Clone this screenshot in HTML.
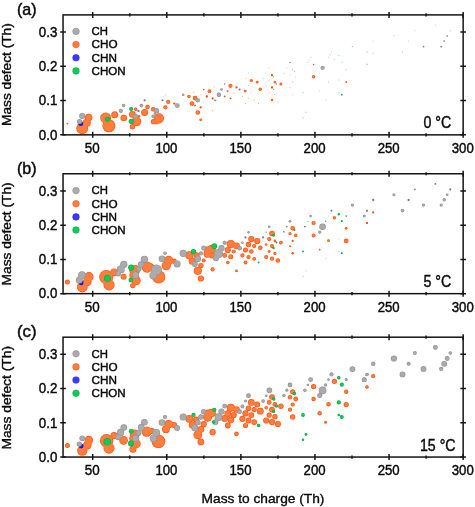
<!DOCTYPE html>
<html><head><meta charset="utf-8"><title>Mass defect plots</title>
<style>html,body{margin:0;padding:0;background:#fff;}body{width:475px;height:507px;overflow:hidden;font-family:"Liberation Sans",sans-serif;}svg{display:block;will-change:transform;}</style>
</head><body>
<svg width="475" height="507" viewBox="0 0 475 507">
<rect x="0" y="0" width="475" height="507" fill="#ffffff"/>
<g>
<circle cx="108.9" cy="125.8" r="6.50" fill="#FF5816"/>
<circle cx="82.2" cy="128.4" r="5.90" fill="#FF5816"/>
<circle cx="105.7" cy="117.9" r="5.50" fill="#FF5816"/>
<circle cx="158.9" cy="118.3" r="5.10" fill="#FF5816"/>
<circle cx="136.4" cy="121.5" r="4.80" fill="#FF5816"/>
<circle cx="86.8" cy="122.8" r="4.00" fill="#FF5816"/>
<circle cx="88.6" cy="117.6" r="3.80" fill="#FF5816"/>
<circle cx="114.7" cy="114.8" r="3.50" fill="#FF5816"/>
<circle cx="144.6" cy="112.4" r="3.50" fill="#FF5816"/>
<circle cx="123.8" cy="118.0" r="3.30" fill="#FF5816"/>
<circle cx="132.4" cy="114.4" r="3.30" fill="#FF5816"/>
<circle cx="132.4" cy="126.8" r="2.70" fill="#FF5816"/>
<circle cx="153.5" cy="121.7" r="2.60" fill="#FF5816"/>
<circle cx="192.0" cy="103.6" r="2.35" fill="#FF5816"/>
<circle cx="147.5" cy="107.0" r="2.30" fill="#FF5816"/>
<circle cx="153.2" cy="109.2" r="2.30" fill="#FF5816"/>
<circle cx="156.8" cy="122.1" r="2.30" fill="#FF5816"/>
<circle cx="195.0" cy="98.1" r="2.30" fill="#FF5816"/>
<circle cx="197.8" cy="112.5" r="2.30" fill="#FF5816"/>
<circle cx="165.4" cy="107.3" r="2.10" fill="#FF5816"/>
<circle cx="168.2" cy="101.9" r="2.10" fill="#FF5816"/>
<circle cx="230.5" cy="85.8" r="2.10" fill="#FF5816"/>
<circle cx="209.5" cy="91.2" r="1.90" fill="#FF5816"/>
<circle cx="135.6" cy="109.2" r="1.70" fill="#FF5816"/>
<circle cx="188.9" cy="96.5" r="1.70" fill="#FF5816"/>
<circle cx="260.3" cy="89.3" r="1.70" fill="#FF5816"/>
<circle cx="313.6" cy="76.8" r="1.70" fill="#FF5816"/>
<circle cx="135.8" cy="109.1" r="1.60" fill="#FF5816"/>
<circle cx="251.3" cy="80.5" r="1.60" fill="#FF5816"/>
<circle cx="280.9" cy="84.0" r="1.50" fill="#FF5816"/>
<circle cx="138.9" cy="116.3" r="1.40" fill="#FF5816"/>
<circle cx="200.7" cy="119.8" r="1.40" fill="#FF5816"/>
<circle cx="245.3" cy="91.1" r="1.40" fill="#FF5816"/>
<circle cx="257.2" cy="82.2" r="1.40" fill="#FF5816"/>
<circle cx="275.0" cy="82.2" r="1.30" fill="#FF5816"/>
<circle cx="108.9" cy="125.8" r="5.78" fill="#FF7E3E"/>
<circle cx="82.2" cy="128.4" r="5.18" fill="#FF7E3E"/>
<circle cx="105.7" cy="117.9" r="4.78" fill="#FF7E3E"/>
<circle cx="158.9" cy="118.3" r="4.38" fill="#FF7E3E"/>
<circle cx="136.4" cy="121.5" r="4.08" fill="#FF7E3E"/>
<circle cx="86.8" cy="122.8" r="3.28" fill="#FF7E3E"/>
<circle cx="88.6" cy="117.6" r="3.08" fill="#FF7E3E"/>
<circle cx="114.7" cy="114.8" r="2.78" fill="#FF7E3E"/>
<circle cx="144.6" cy="112.4" r="2.78" fill="#FF7E3E"/>
<circle cx="123.8" cy="118.0" r="2.58" fill="#FF7E3E"/>
<circle cx="132.4" cy="114.4" r="2.58" fill="#FF7E3E"/>
<circle cx="132.4" cy="126.8" r="1.98" fill="#FF7E3E"/>
<circle cx="153.5" cy="121.7" r="1.88" fill="#FF7E3E"/>
<circle cx="192.0" cy="103.6" r="1.63" fill="#FF7E3E"/>
<circle cx="147.5" cy="107.0" r="1.58" fill="#FF7E3E"/>
<circle cx="153.2" cy="109.2" r="1.58" fill="#FF7E3E"/>
<circle cx="156.8" cy="122.1" r="1.58" fill="#FF7E3E"/>
<circle cx="195.0" cy="98.1" r="1.58" fill="#FF7E3E"/>
<circle cx="197.8" cy="112.5" r="1.58" fill="#FF7E3E"/>
<circle cx="165.4" cy="107.3" r="1.38" fill="#FF7E3E"/>
<circle cx="168.2" cy="101.9" r="1.38" fill="#FF7E3E"/>
<circle cx="230.5" cy="85.8" r="1.38" fill="#FF7E3E"/>
<circle cx="209.5" cy="91.2" r="1.18" fill="#FF7E3E"/>
<circle cx="135.6" cy="109.2" r="0.98" fill="#FF7E3E"/>
<circle cx="188.9" cy="96.5" r="0.98" fill="#FF7E3E"/>
<circle cx="260.3" cy="89.3" r="0.98" fill="#FF7E3E"/>
<circle cx="313.6" cy="76.8" r="0.98" fill="#FF7E3E"/>
<circle cx="135.8" cy="109.1" r="0.88" fill="#FF7E3E"/>
<circle cx="251.3" cy="80.5" r="0.88" fill="#FF7E3E"/>
<circle cx="280.9" cy="84.0" r="0.78" fill="#FF7E3E"/>
<circle cx="138.9" cy="116.3" r="0.68" fill="#FF7E3E"/>
<circle cx="200.7" cy="119.8" r="0.68" fill="#FF7E3E"/>
<circle cx="245.3" cy="91.1" r="0.68" fill="#FF7E3E"/>
<circle cx="257.2" cy="82.2" r="0.68" fill="#FF7E3E"/>
<circle cx="275.0" cy="82.2" r="0.58" fill="#FF7E3E"/>
<circle cx="174.3" cy="103.6" r="1.15" fill="#FF4A08"/>
<circle cx="200.7" cy="107.3" r="1.15" fill="#FF4A08"/>
<circle cx="206.8" cy="96.5" r="1.15" fill="#FF4A08"/>
<circle cx="236.5" cy="87.4" r="1.15" fill="#FF4A08"/>
<circle cx="272.0" cy="75.2" r="1.15" fill="#FF4A08"/>
<circle cx="272.0" cy="87.5" r="1.15" fill="#FF4A08"/>
<circle cx="272.0" cy="100.0" r="1.15" fill="#FF4A08"/>
<circle cx="212.6" cy="98.4" r="1.05" fill="#FF4A08"/>
<circle cx="224.7" cy="96.4" r="0.95" fill="#FF4A08"/>
<circle cx="227.6" cy="91.1" r="0.95" fill="#FF4A08"/>
<circle cx="230.5" cy="98.4" r="0.95" fill="#FF4A08"/>
<circle cx="346.2" cy="82.1" r="0.95" fill="#FF4A08"/>
<circle cx="67.4" cy="123.5" r="0.85" fill="#FF4A08"/>
<circle cx="313.6" cy="64.4" r="0.75" fill="#FF4A08"/>
<circle cx="212.6" cy="110.5" r="0.70" fill="#FF5816" opacity="0.45"/>
<circle cx="292.7" cy="69.7" r="0.70" fill="#FF5816" opacity="0.45"/>
<circle cx="203.7" cy="101.9" r="0.60" fill="#FF5816" opacity="0.45"/>
<circle cx="242.4" cy="96.4" r="0.60" fill="#FF5816" opacity="0.45"/>
<circle cx="248.3" cy="98.4" r="0.60" fill="#FF5816" opacity="0.45"/>
<circle cx="251.3" cy="92.8" r="0.60" fill="#FF5816" opacity="0.45"/>
<circle cx="277.9" cy="101.9" r="0.60" fill="#FF5816" opacity="0.45"/>
<circle cx="233.3" cy="92.8" r="0.60" fill="#FF5816" opacity="0.45"/>
<circle cx="245.3" cy="103.4" r="0.60" fill="#FF5816" opacity="0.45"/>
<circle cx="248.3" cy="85.6" r="0.60" fill="#FF5816" opacity="0.45"/>
<circle cx="254.2" cy="99.9" r="0.60" fill="#FF5816" opacity="0.45"/>
<circle cx="266.0" cy="85.8" r="0.60" fill="#FF5816" opacity="0.45"/>
<circle cx="269.0" cy="80.5" r="0.60" fill="#FF5816" opacity="0.45"/>
<circle cx="269.0" cy="92.8" r="0.60" fill="#FF5816" opacity="0.45"/>
<circle cx="274.9" cy="94.6" r="0.60" fill="#FF5816" opacity="0.45"/>
<circle cx="290.0" cy="75.0" r="0.60" fill="#FF5816" opacity="0.45"/>
<circle cx="295.7" cy="76.8" r="0.60" fill="#FF5816" opacity="0.45"/>
<circle cx="292.7" cy="82.1" r="0.60" fill="#FF5816" opacity="0.45"/>
<circle cx="290.0" cy="87.6" r="0.60" fill="#FF5816" opacity="0.45"/>
<circle cx="292.7" cy="94.7" r="0.60" fill="#FF5816" opacity="0.45"/>
<circle cx="319.7" cy="91.0" r="0.60" fill="#FF5816" opacity="0.45"/>
<circle cx="325.6" cy="100.0" r="0.60" fill="#FF5816" opacity="0.45"/>
<circle cx="328.5" cy="82.1" r="0.60" fill="#FF5816" opacity="0.45"/>
<circle cx="334.4" cy="59.0" r="0.60" fill="#FF5816" opacity="0.45"/>
<circle cx="346.2" cy="69.7" r="0.60" fill="#FF5816" opacity="0.45"/>
<circle cx="366.8" cy="64.4" r="0.60" fill="#FF5816" opacity="0.45"/>
<circle cx="373.2" cy="53.4" r="0.60" fill="#FF5816" opacity="0.45"/>
<circle cx="367.2" cy="51.9" r="0.60" fill="#FF5816" opacity="0.45"/>
<circle cx="367.2" cy="64.2" r="0.60" fill="#FF5816" opacity="0.45"/>
<circle cx="402.5" cy="51.9" r="0.60" fill="#FF5816" opacity="0.45"/>
<circle cx="80.7" cy="123.7" r="2.40" fill="#1010E8"/>
<circle cx="80.7" cy="123.7" r="1.80" fill="#1818FF"/>
<circle cx="82.2" cy="116.1" r="3.00" fill="#919191"/>
<circle cx="79.5" cy="121.5" r="2.60" fill="#919191"/>
<circle cx="156.6" cy="110.7" r="2.60" fill="#919191"/>
<circle cx="135.6" cy="116.3" r="2.45" fill="#919191"/>
<circle cx="177.3" cy="105.6" r="2.40" fill="#919191"/>
<circle cx="197.7" cy="100.3" r="2.25" fill="#919191"/>
<circle cx="218.9" cy="94.8" r="2.25" fill="#919191"/>
<circle cx="120.8" cy="110.8" r="2.10" fill="#919191"/>
<circle cx="322.6" cy="67.8" r="2.10" fill="#919191"/>
<circle cx="123.6" cy="105.5" r="1.80" fill="#919191"/>
<circle cx="141.4" cy="105.6" r="1.80" fill="#919191"/>
<circle cx="153.3" cy="116.2" r="1.80" fill="#919191"/>
<circle cx="183.2" cy="94.7" r="1.30" fill="#919191"/>
<circle cx="221.5" cy="89.6" r="1.30" fill="#919191"/>
<circle cx="154.9" cy="113.5" r="1.20" fill="#919191"/>
<circle cx="82.2" cy="116.1" r="2.40" fill="#ABABAB"/>
<circle cx="79.5" cy="121.5" r="2.00" fill="#ABABAB"/>
<circle cx="156.6" cy="110.7" r="2.00" fill="#ABABAB"/>
<circle cx="135.6" cy="116.3" r="1.85" fill="#ABABAB"/>
<circle cx="177.3" cy="105.6" r="1.80" fill="#ABABAB"/>
<circle cx="197.7" cy="100.3" r="1.65" fill="#ABABAB"/>
<circle cx="218.9" cy="94.8" r="1.65" fill="#ABABAB"/>
<circle cx="120.8" cy="110.8" r="1.50" fill="#ABABAB"/>
<circle cx="322.6" cy="67.8" r="1.50" fill="#ABABAB"/>
<circle cx="123.6" cy="105.5" r="1.20" fill="#ABABAB"/>
<circle cx="141.4" cy="105.6" r="1.20" fill="#ABABAB"/>
<circle cx="153.3" cy="116.2" r="1.20" fill="#ABABAB"/>
<circle cx="183.2" cy="94.7" r="0.70" fill="#ABABAB"/>
<circle cx="221.5" cy="89.6" r="0.70" fill="#ABABAB"/>
<circle cx="154.9" cy="113.5" r="0.60" fill="#ABABAB"/>
<circle cx="144.6" cy="100.3" r="1.15" fill="#7c7c7c"/>
<circle cx="138.4" cy="110.9" r="1.05" fill="#7c7c7c"/>
<circle cx="162.5" cy="100.3" r="1.05" fill="#7c7c7c"/>
<circle cx="239.6" cy="89.5" r="1.05" fill="#7c7c7c"/>
<circle cx="138.5" cy="111.1" r="0.95" fill="#7c7c7c"/>
<circle cx="195.0" cy="105.5" r="0.95" fill="#7c7c7c"/>
<circle cx="423.5" cy="46.6" r="0.95" fill="#7c7c7c"/>
<circle cx="441.2" cy="46.6" r="0.95" fill="#7c7c7c"/>
<circle cx="203.7" cy="89.6" r="0.85" fill="#7c7c7c"/>
<circle cx="444.2" cy="41.0" r="0.85" fill="#7c7c7c"/>
<circle cx="447.2" cy="36.0" r="0.85" fill="#7c7c7c"/>
<circle cx="215.7" cy="100.4" r="0.75" fill="#7c7c7c"/>
<circle cx="224.7" cy="84.1" r="0.75" fill="#7c7c7c"/>
<circle cx="290.0" cy="62.5" r="0.75" fill="#7c7c7c"/>
<circle cx="201.0" cy="94.9" r="0.60" fill="#919191" opacity="0.45"/>
<circle cx="165.4" cy="94.9" r="0.60" fill="#919191" opacity="0.45"/>
<circle cx="245.5" cy="78.5" r="0.60" fill="#919191" opacity="0.45"/>
<circle cx="263.1" cy="78.5" r="0.60" fill="#919191" opacity="0.45"/>
<circle cx="266.0" cy="73.1" r="0.60" fill="#919191" opacity="0.45"/>
<circle cx="269.0" cy="67.9" r="0.60" fill="#919191" opacity="0.45"/>
<circle cx="286.8" cy="68.0" r="0.60" fill="#919191" opacity="0.45"/>
<circle cx="283.9" cy="73.3" r="0.60" fill="#919191" opacity="0.45"/>
<circle cx="310.6" cy="57.3" r="0.60" fill="#919191" opacity="0.45"/>
<circle cx="309.0" cy="60.2" r="0.60" fill="#919191" opacity="0.45"/>
<circle cx="307.9" cy="62.5" r="0.60" fill="#919191" opacity="0.45"/>
<circle cx="319.7" cy="73.3" r="0.60" fill="#919191" opacity="0.45"/>
<circle cx="331.5" cy="52.0" r="0.60" fill="#919191" opacity="0.45"/>
<circle cx="330.0" cy="54.7" r="0.60" fill="#919191" opacity="0.45"/>
<circle cx="328.5" cy="57.3" r="0.60" fill="#919191" opacity="0.45"/>
<circle cx="352.3" cy="46.5" r="0.60" fill="#919191" opacity="0.45"/>
<circle cx="366.8" cy="52.0" r="0.60" fill="#919191" opacity="0.45"/>
<circle cx="450.3" cy="30.7" r="0.60" fill="#919191" opacity="0.45"/>
<circle cx="435.4" cy="25.1" r="0.60" fill="#919191" opacity="0.45"/>
<circle cx="414.9" cy="30.7" r="0.60" fill="#919191" opacity="0.45"/>
<circle cx="408.6" cy="41.0" r="0.60" fill="#919191" opacity="0.45"/>
<circle cx="394.2" cy="35.7" r="0.60" fill="#919191" opacity="0.45"/>
<circle cx="373.2" cy="41.0" r="0.60" fill="#919191" opacity="0.45"/>
<circle cx="352.5" cy="46.6" r="0.60" fill="#919191" opacity="0.45"/>
<circle cx="248.5" cy="73.1" r="0.60" fill="#919191" opacity="0.45"/>
<circle cx="131.3" cy="121.3" r="2.60" fill="#00B24A"/>
<circle cx="107.5" cy="119.3" r="2.50" fill="#00B24A"/>
<circle cx="131.1" cy="108.9" r="2.00" fill="#00B24A"/>
<circle cx="131.3" cy="121.3" r="1.90" fill="#0CCB58"/>
<circle cx="107.5" cy="119.3" r="1.80" fill="#0CCB58"/>
<circle cx="131.1" cy="108.9" r="1.30" fill="#0CCB58"/>
<circle cx="341.8" cy="94.7" r="0.85" fill="#00B24A"/>
<circle cx="214.6" cy="99.9" r="0.65" fill="#00B24A"/>
<circle cx="273.6" cy="76.8" r="0.55" fill="#00B24A"/>
<circle cx="273.6" cy="89.3" r="0.55" fill="#00B24A"/>
<circle cx="276.5" cy="83.9" r="0.55" fill="#00B24A"/>
<circle cx="303.0" cy="92.6" r="0.60" fill="#00B24A" opacity="0.45"/>
<circle cx="303.0" cy="117.7" r="0.60" fill="#00B24A" opacity="0.45"/>
<circle cx="214.3" cy="87.0" r="0.60" fill="#00B24A" opacity="0.45"/>
<circle cx="258.6" cy="103.4" r="0.60" fill="#00B24A" opacity="0.45"/>
<circle cx="306.0" cy="112.2" r="0.60" fill="#00B24A" opacity="0.45"/>
<circle cx="338.8" cy="55.4" r="0.60" fill="#00B24A" opacity="0.45"/>
<circle cx="341.8" cy="62.3" r="0.60" fill="#00B24A" opacity="0.45"/>
<circle cx="338.8" cy="80.0" r="0.60" fill="#00B24A" opacity="0.45"/>
<circle cx="338.8" cy="92.6" r="0.60" fill="#00B24A" opacity="0.45"/>
<circle cx="193.5" cy="92.5" r="0.60" fill="#00B24A" opacity="0.45"/>
<circle cx="294.4" cy="71.4" r="0.60" fill="#00B24A" opacity="0.45"/>
</g>
<rect x="63.05" y="14.9" width="400.10" height="119.95" fill="none" stroke="#141414" stroke-width="1.5"/>
<path d="M92.69 131.85 V137.85 M92.69 11.9 V17.9 M129.73 133.25 V136.45 M129.73 13.3 V16.5 M166.78 131.85 V137.85 M166.78 11.9 V17.9 M203.83 133.25 V136.45 M203.83 13.3 V16.5 M240.87 131.85 V137.85 M240.87 11.9 V17.9 M277.92 133.25 V136.45 M277.92 13.3 V16.5 M314.96 131.85 V137.85 M314.96 11.9 V17.9 M352.01 133.25 V136.45 M352.01 13.3 V16.5 M389.06 131.85 V137.85 M389.06 11.9 V17.9 M426.10 133.25 V136.45 M426.10 13.3 V16.5 M463.15 131.85 V137.85 M463.15 11.9 V17.9 M60.25 134.85 H65.85 M460.34999999999997 134.85 H465.95 M60.25 100.58 H65.85 M460.34999999999997 100.58 H465.95 M60.25 66.31 H65.85 M460.34999999999997 66.31 H465.95 M60.25 32.04 H65.85 M460.34999999999997 32.04 H465.95" stroke="#141414" stroke-width="1.5" fill="none"/>
<g font-family="Liberation Sans, sans-serif" opacity="0.999">
<text x="92.29" y="153.05" font-size="14.8" text-anchor="middle" fill="#0a0a0a" stroke="#0a0a0a" stroke-width="0.44" textLength="14.9" lengthAdjust="spacingAndGlyphs" >50</text>
<text x="166.38" y="153.05" font-size="14.8" text-anchor="middle" fill="#0a0a0a" stroke="#0a0a0a" stroke-width="0.44" textLength="22.0" lengthAdjust="spacingAndGlyphs" >100</text>
<text x="240.47" y="153.05" font-size="14.8" text-anchor="middle" fill="#0a0a0a" stroke="#0a0a0a" stroke-width="0.44" textLength="22.0" lengthAdjust="spacingAndGlyphs" >150</text>
<text x="314.56" y="153.05" font-size="14.8" text-anchor="middle" fill="#0a0a0a" stroke="#0a0a0a" stroke-width="0.44" textLength="22.0" lengthAdjust="spacingAndGlyphs" >200</text>
<text x="388.66" y="153.05" font-size="14.8" text-anchor="middle" fill="#0a0a0a" stroke="#0a0a0a" stroke-width="0.44" textLength="22.0" lengthAdjust="spacingAndGlyphs" >250</text>
<text x="462.75" y="153.05" font-size="14.8" text-anchor="middle" fill="#0a0a0a" stroke="#0a0a0a" stroke-width="0.44" textLength="22.0" lengthAdjust="spacingAndGlyphs" >300</text>
<text x="57.3" y="139.68" font-size="14.0" text-anchor="end" fill="#0a0a0a" stroke="#0a0a0a" stroke-width="0.44" textLength="18.5" lengthAdjust="spacingAndGlyphs" >0.0</text>
<text x="57.3" y="105.41" font-size="14.0" text-anchor="end" fill="#0a0a0a" stroke="#0a0a0a" stroke-width="0.44" textLength="18.5" lengthAdjust="spacingAndGlyphs" >0.1</text>
<text x="57.3" y="71.14" font-size="14.0" text-anchor="end" fill="#0a0a0a" stroke="#0a0a0a" stroke-width="0.44" textLength="18.5" lengthAdjust="spacingAndGlyphs" >0.2</text>
<text x="57.3" y="36.87" font-size="14.0" text-anchor="end" fill="#0a0a0a" stroke="#0a0a0a" stroke-width="0.44" textLength="18.5" lengthAdjust="spacingAndGlyphs" >0.3</text>
<text x="16.9" y="15.00" font-size="16.2" text-anchor="start" fill="#0a0a0a" stroke="#0a0a0a" stroke-width="0.44" textLength="19.6" lengthAdjust="spacingAndGlyphs" >(a)</text>
<text x="423.4" y="128.35" font-size="17" text-anchor="start" fill="#0a0a0a" stroke="#0a0a0a" stroke-width="0.44" textLength="27.8" lengthAdjust="spacingAndGlyphs" >0 °C</text>
<text transform="translate(10.8 74.58) rotate(-90)" font-size="13" text-anchor="middle" fill="#0a0a0a" stroke="#0a0a0a" stroke-width="0.38" textLength="102.6" lengthAdjust="spacingAndGlyphs">Mass defect (Th)</text>
<circle cx="76" cy="31.45" r="3.3" fill="#ABABAB" stroke="#919191" stroke-width="0.6"/>
<text x="91.6" y="35.20" font-size="11.7" text-anchor="start" fill="#0a0a0a" stroke="#0a0a0a" stroke-width="0.44" textLength="16.4" lengthAdjust="spacingAndGlyphs" >CH</text>
<circle cx="76" cy="44.60" r="3.3" fill="#FF7E3E" stroke="#FF5816" stroke-width="0.6"/>
<text x="91.6" y="48.35" font-size="11.7" text-anchor="start" fill="#0a0a0a" stroke="#0a0a0a" stroke-width="0.44" textLength="26.0" lengthAdjust="spacingAndGlyphs" >CHO</text>
<circle cx="76" cy="57.75" r="3.3" fill="#3A3AFF" stroke="#2A2AF0" stroke-width="0.6"/>
<text x="91.6" y="61.50" font-size="11.7" text-anchor="start" fill="#0a0a0a" stroke="#0a0a0a" stroke-width="0.44" textLength="25.4" lengthAdjust="spacingAndGlyphs" >CHN</text>
<circle cx="76" cy="70.90" r="3.3" fill="#0CCB58" stroke="#00B24A" stroke-width="0.6"/>
<text x="91.6" y="74.65" font-size="11.7" text-anchor="start" fill="#0a0a0a" stroke="#0a0a0a" stroke-width="0.44" textLength="34.1" lengthAdjust="spacingAndGlyphs" >CHON</text>
</g>
<g>
<circle cx="106.2" cy="277.1" r="7.00" fill="#FF5816"/>
<circle cx="158.7" cy="276.9" r="6.60" fill="#FF5816"/>
<circle cx="109.05" cy="284.9" r="5.60" fill="#FF5816"/>
<circle cx="147.1" cy="267.1" r="5.60" fill="#FF5816"/>
<circle cx="82.3" cy="287.0" r="5.40" fill="#FF5816"/>
<circle cx="134.6" cy="270.5" r="5.30" fill="#FF5816"/>
<circle cx="88.9" cy="276.7" r="4.70" fill="#FF5816"/>
<circle cx="134.0" cy="275.5" r="4.70" fill="#FF5816"/>
<circle cx="136.0" cy="280.6" r="4.70" fill="#FF5816"/>
<circle cx="168.7" cy="260.4" r="4.60" fill="#FF5816"/>
<circle cx="166.2" cy="265.7" r="4.60" fill="#FF5816"/>
<circle cx="87.2" cy="281.8" r="4.40" fill="#FF5816"/>
<circle cx="211.6" cy="249.0" r="4.30" fill="#FF5816"/>
<circle cx="189.3" cy="255.3" r="4.10" fill="#FF5816"/>
<circle cx="208.3" cy="250.3" r="4.10" fill="#FF5816"/>
<circle cx="197.8" cy="270.8" r="4.10" fill="#FF5816"/>
<circle cx="207.6" cy="253.7" r="4.10" fill="#FF5816"/>
<circle cx="230.8" cy="244.0" r="4.10" fill="#FF5816"/>
<circle cx="114.1" cy="272.3" r="3.90" fill="#FF5816"/>
<circle cx="192.3" cy="261.2" r="3.60" fill="#FF5816"/>
<circle cx="236.5" cy="245.8" r="3.40" fill="#FF5816"/>
<circle cx="151.0" cy="266.5" r="3.10" fill="#FF5816"/>
<circle cx="196.5" cy="255.3" r="3.10" fill="#FF5816"/>
<circle cx="200.9" cy="278.5" r="3.10" fill="#FF5816"/>
<circle cx="212.0" cy="255.3" r="3.10" fill="#FF5816"/>
<circle cx="227.8" cy="250.0" r="3.10" fill="#FF5816"/>
<circle cx="251.3" cy="239.1" r="3.10" fill="#FF5816"/>
<circle cx="257.2" cy="241.1" r="3.10" fill="#FF5816"/>
<circle cx="123.6" cy="276.7" r="3.00" fill="#FF5816"/>
<circle cx="248.5" cy="244.5" r="2.80" fill="#FF5816"/>
<circle cx="272.0" cy="233.5" r="2.80" fill="#FF5816"/>
<circle cx="132.8" cy="285.6" r="2.70" fill="#FF5816"/>
<circle cx="200.9" cy="265.6" r="2.70" fill="#FF5816"/>
<circle cx="174.1" cy="261.2" r="2.60" fill="#FF5816"/>
<circle cx="67.4" cy="282.1" r="2.50" fill="#FF5816"/>
<circle cx="230.8" cy="256.8" r="2.50" fill="#FF5816"/>
<circle cx="245.5" cy="250.0" r="2.50" fill="#FF5816"/>
<circle cx="224.7" cy="255.4" r="2.40" fill="#FF5816"/>
<circle cx="346.2" cy="240.9" r="2.40" fill="#FF5816"/>
<circle cx="251.3" cy="251.5" r="2.30" fill="#FF5816"/>
<circle cx="260.3" cy="247.8" r="2.30" fill="#FF5816"/>
<circle cx="277.9" cy="260.5" r="2.30" fill="#FF5816"/>
<circle cx="292.7" cy="228.3" r="2.30" fill="#FF5816"/>
<circle cx="136.0" cy="267.0" r="2.10" fill="#FF5816"/>
<circle cx="212.6" cy="269.4" r="2.10" fill="#FF5816"/>
<circle cx="233.7" cy="251.5" r="2.10" fill="#FF5816"/>
<circle cx="242.4" cy="255.4" r="2.10" fill="#FF5816"/>
<circle cx="248.5" cy="257.1" r="2.10" fill="#FF5816"/>
<circle cx="254.2" cy="246.1" r="2.10" fill="#FF5816"/>
<circle cx="269.2" cy="239.1" r="2.10" fill="#FF5816"/>
<circle cx="272.0" cy="246.1" r="2.10" fill="#FF5816"/>
<circle cx="266.2" cy="257.1" r="2.10" fill="#FF5816"/>
<circle cx="272.0" cy="258.7" r="2.10" fill="#FF5816"/>
<circle cx="313.6" cy="223.0" r="2.10" fill="#FF5816"/>
<circle cx="203.7" cy="260.6" r="2.00" fill="#FF5816"/>
<circle cx="313.6" cy="235.4" r="2.00" fill="#FF5816"/>
<circle cx="245.5" cy="262.5" r="1.90" fill="#FF5816"/>
<circle cx="254.2" cy="258.8" r="1.90" fill="#FF5816"/>
<circle cx="280.9" cy="242.6" r="1.90" fill="#FF5816"/>
<circle cx="227.8" cy="262.5" r="1.80" fill="#FF5816"/>
<circle cx="295.7" cy="235.4" r="1.80" fill="#FF5816"/>
<circle cx="334.4" cy="217.7" r="1.70" fill="#FF5816"/>
<circle cx="274.9" cy="253.4" r="1.60" fill="#FF5816"/>
<circle cx="290.0" cy="233.7" r="1.60" fill="#FF5816"/>
<circle cx="236.5" cy="270.9" r="1.40" fill="#FF5816"/>
<circle cx="274.9" cy="241.0" r="1.40" fill="#FF5816"/>
<circle cx="269.2" cy="251.5" r="1.40" fill="#FF5816"/>
<circle cx="328.5" cy="240.7" r="1.40" fill="#FF5816"/>
<circle cx="346.2" cy="228.3" r="1.40" fill="#FF5816"/>
<circle cx="266.2" cy="244.5" r="1.30" fill="#FF5816"/>
<circle cx="292.7" cy="253.3" r="1.30" fill="#FF5816"/>
<circle cx="106.2" cy="277.1" r="6.28" fill="#FF7E3E"/>
<circle cx="158.7" cy="276.9" r="5.88" fill="#FF7E3E"/>
<circle cx="109.05" cy="284.9" r="4.88" fill="#FF7E3E"/>
<circle cx="147.1" cy="267.1" r="4.88" fill="#FF7E3E"/>
<circle cx="82.3" cy="287.0" r="4.68" fill="#FF7E3E"/>
<circle cx="134.6" cy="270.5" r="4.58" fill="#FF7E3E"/>
<circle cx="88.9" cy="276.7" r="3.98" fill="#FF7E3E"/>
<circle cx="134.0" cy="275.5" r="3.98" fill="#FF7E3E"/>
<circle cx="136.0" cy="280.6" r="3.98" fill="#FF7E3E"/>
<circle cx="168.7" cy="260.4" r="3.88" fill="#FF7E3E"/>
<circle cx="166.2" cy="265.7" r="3.88" fill="#FF7E3E"/>
<circle cx="87.2" cy="281.8" r="3.68" fill="#FF7E3E"/>
<circle cx="211.6" cy="249.0" r="3.58" fill="#FF7E3E"/>
<circle cx="189.3" cy="255.3" r="3.38" fill="#FF7E3E"/>
<circle cx="208.3" cy="250.3" r="3.38" fill="#FF7E3E"/>
<circle cx="197.8" cy="270.8" r="3.38" fill="#FF7E3E"/>
<circle cx="207.6" cy="253.7" r="3.38" fill="#FF7E3E"/>
<circle cx="230.8" cy="244.0" r="3.38" fill="#FF7E3E"/>
<circle cx="114.1" cy="272.3" r="3.18" fill="#FF7E3E"/>
<circle cx="192.3" cy="261.2" r="2.88" fill="#FF7E3E"/>
<circle cx="236.5" cy="245.8" r="2.68" fill="#FF7E3E"/>
<circle cx="151.0" cy="266.5" r="2.38" fill="#FF7E3E"/>
<circle cx="196.5" cy="255.3" r="2.38" fill="#FF7E3E"/>
<circle cx="200.9" cy="278.5" r="2.38" fill="#FF7E3E"/>
<circle cx="212.0" cy="255.3" r="2.38" fill="#FF7E3E"/>
<circle cx="227.8" cy="250.0" r="2.38" fill="#FF7E3E"/>
<circle cx="251.3" cy="239.1" r="2.38" fill="#FF7E3E"/>
<circle cx="257.2" cy="241.1" r="2.38" fill="#FF7E3E"/>
<circle cx="123.6" cy="276.7" r="2.28" fill="#FF7E3E"/>
<circle cx="248.5" cy="244.5" r="2.08" fill="#FF7E3E"/>
<circle cx="272.0" cy="233.5" r="2.08" fill="#FF7E3E"/>
<circle cx="132.8" cy="285.6" r="1.98" fill="#FF7E3E"/>
<circle cx="200.9" cy="265.6" r="1.98" fill="#FF7E3E"/>
<circle cx="174.1" cy="261.2" r="1.88" fill="#FF7E3E"/>
<circle cx="67.4" cy="282.1" r="1.78" fill="#FF7E3E"/>
<circle cx="230.8" cy="256.8" r="1.78" fill="#FF7E3E"/>
<circle cx="245.5" cy="250.0" r="1.78" fill="#FF7E3E"/>
<circle cx="224.7" cy="255.4" r="1.68" fill="#FF7E3E"/>
<circle cx="346.2" cy="240.9" r="1.68" fill="#FF7E3E"/>
<circle cx="251.3" cy="251.5" r="1.58" fill="#FF7E3E"/>
<circle cx="260.3" cy="247.8" r="1.58" fill="#FF7E3E"/>
<circle cx="277.9" cy="260.5" r="1.58" fill="#FF7E3E"/>
<circle cx="292.7" cy="228.3" r="1.58" fill="#FF7E3E"/>
<circle cx="136.0" cy="267.0" r="1.38" fill="#FF7E3E"/>
<circle cx="212.6" cy="269.4" r="1.38" fill="#FF7E3E"/>
<circle cx="233.7" cy="251.5" r="1.38" fill="#FF7E3E"/>
<circle cx="242.4" cy="255.4" r="1.38" fill="#FF7E3E"/>
<circle cx="248.5" cy="257.1" r="1.38" fill="#FF7E3E"/>
<circle cx="254.2" cy="246.1" r="1.38" fill="#FF7E3E"/>
<circle cx="269.2" cy="239.1" r="1.38" fill="#FF7E3E"/>
<circle cx="272.0" cy="246.1" r="1.38" fill="#FF7E3E"/>
<circle cx="266.2" cy="257.1" r="1.38" fill="#FF7E3E"/>
<circle cx="272.0" cy="258.7" r="1.38" fill="#FF7E3E"/>
<circle cx="313.6" cy="223.0" r="1.38" fill="#FF7E3E"/>
<circle cx="203.7" cy="260.6" r="1.28" fill="#FF7E3E"/>
<circle cx="313.6" cy="235.4" r="1.28" fill="#FF7E3E"/>
<circle cx="245.5" cy="262.5" r="1.18" fill="#FF7E3E"/>
<circle cx="254.2" cy="258.8" r="1.18" fill="#FF7E3E"/>
<circle cx="280.9" cy="242.6" r="1.18" fill="#FF7E3E"/>
<circle cx="227.8" cy="262.5" r="1.08" fill="#FF7E3E"/>
<circle cx="295.7" cy="235.4" r="1.08" fill="#FF7E3E"/>
<circle cx="334.4" cy="217.7" r="0.98" fill="#FF7E3E"/>
<circle cx="274.9" cy="253.4" r="0.88" fill="#FF7E3E"/>
<circle cx="290.0" cy="233.7" r="0.88" fill="#FF7E3E"/>
<circle cx="236.5" cy="270.9" r="0.68" fill="#FF7E3E"/>
<circle cx="274.9" cy="241.0" r="0.68" fill="#FF7E3E"/>
<circle cx="269.2" cy="251.5" r="0.68" fill="#FF7E3E"/>
<circle cx="328.5" cy="240.7" r="0.68" fill="#FF7E3E"/>
<circle cx="346.2" cy="228.3" r="0.68" fill="#FF7E3E"/>
<circle cx="266.2" cy="244.5" r="0.58" fill="#FF7E3E"/>
<circle cx="292.7" cy="253.3" r="0.58" fill="#FF7E3E"/>
<circle cx="292.7" cy="240.9" r="1.05" fill="#FF4A08"/>
<circle cx="373.2" cy="212.4" r="1.05" fill="#FF4A08"/>
<circle cx="290.0" cy="246.2" r="0.95" fill="#FF4A08"/>
<circle cx="366.8" cy="223.0" r="0.95" fill="#FF4A08"/>
<circle cx="367.2" cy="223.0" r="0.95" fill="#FF4A08"/>
<circle cx="319.7" cy="249.7" r="0.85" fill="#FF4A08"/>
<circle cx="325.6" cy="258.6" r="0.60" fill="#FF5816" opacity="0.45"/>
<circle cx="81.2" cy="282.9" r="2.35" fill="#1010E8"/>
<circle cx="81.2" cy="282.9" r="1.75" fill="#1818FF"/>
<circle cx="156.4" cy="269.9" r="5.50" fill="#919191"/>
<circle cx="218.5" cy="253.7" r="4.60" fill="#919191"/>
<circle cx="82.0" cy="275.05" r="3.90" fill="#919191"/>
<circle cx="120.8" cy="269.4" r="3.90" fill="#919191"/>
<circle cx="153.2" cy="275.5" r="3.80" fill="#919191"/>
<circle cx="123.8" cy="264.3" r="3.60" fill="#919191"/>
<circle cx="135.6" cy="275.0" r="3.60" fill="#919191"/>
<circle cx="144.4" cy="259.3" r="3.60" fill="#919191"/>
<circle cx="183.2" cy="253.3" r="3.60" fill="#919191"/>
<circle cx="79.3" cy="280.1" r="3.50" fill="#919191"/>
<circle cx="177.1" cy="264.0" r="3.50" fill="#919191"/>
<circle cx="162.0" cy="258.7" r="3.30" fill="#919191"/>
<circle cx="197.8" cy="258.7" r="3.30" fill="#919191"/>
<circle cx="322.6" cy="226.8" r="3.30" fill="#919191"/>
<circle cx="141.1" cy="264.4" r="3.10" fill="#919191"/>
<circle cx="221.5" cy="248.2" r="3.10" fill="#919191"/>
<circle cx="216.0" cy="257.9" r="3.10" fill="#919191"/>
<circle cx="194.8" cy="264.0" r="2.90" fill="#919191"/>
<circle cx="118.3" cy="273.6" r="2.80" fill="#919191"/>
<circle cx="138.8" cy="269.0" r="2.70" fill="#919191"/>
<circle cx="203.7" cy="248.0" r="2.50" fill="#919191"/>
<circle cx="239.6" cy="248.2" r="2.30" fill="#919191"/>
<circle cx="200.9" cy="253.4" r="2.10" fill="#919191"/>
<circle cx="224.7" cy="242.8" r="2.10" fill="#919191"/>
<circle cx="165.0" cy="253.3" r="1.80" fill="#919191"/>
<circle cx="402.5" cy="210.6" r="1.80" fill="#919191"/>
<circle cx="319.7" cy="232.1" r="1.70" fill="#919191"/>
<circle cx="444.2" cy="199.8" r="1.70" fill="#919191"/>
<circle cx="352.4" cy="205.1" r="1.60" fill="#919191"/>
<circle cx="423.5" cy="205.1" r="1.60" fill="#919191"/>
<circle cx="441.2" cy="205.1" r="1.60" fill="#919191"/>
<circle cx="393.9" cy="194.7" r="1.50" fill="#919191"/>
<circle cx="290.0" cy="221.3" r="1.40" fill="#919191"/>
<circle cx="242.4" cy="242.8" r="1.30" fill="#919191"/>
<circle cx="269.2" cy="226.8" r="1.30" fill="#919191"/>
<circle cx="310.6" cy="216.1" r="1.30" fill="#919191"/>
<circle cx="364.1" cy="216.1" r="1.30" fill="#919191"/>
<circle cx="447.2" cy="194.7" r="1.30" fill="#919191"/>
<circle cx="248.5" cy="232.2" r="1.20" fill="#919191"/>
<circle cx="364.4" cy="215.9" r="1.20" fill="#919191"/>
<circle cx="156.4" cy="269.9" r="4.90" fill="#ABABAB"/>
<circle cx="218.5" cy="253.7" r="4.00" fill="#ABABAB"/>
<circle cx="82.0" cy="275.05" r="3.30" fill="#ABABAB"/>
<circle cx="120.8" cy="269.4" r="3.30" fill="#ABABAB"/>
<circle cx="153.2" cy="275.5" r="3.20" fill="#ABABAB"/>
<circle cx="123.8" cy="264.3" r="3.00" fill="#ABABAB"/>
<circle cx="135.6" cy="275.0" r="3.00" fill="#ABABAB"/>
<circle cx="144.4" cy="259.3" r="3.00" fill="#ABABAB"/>
<circle cx="183.2" cy="253.3" r="3.00" fill="#ABABAB"/>
<circle cx="79.3" cy="280.1" r="2.90" fill="#ABABAB"/>
<circle cx="177.1" cy="264.0" r="2.90" fill="#ABABAB"/>
<circle cx="162.0" cy="258.7" r="2.70" fill="#ABABAB"/>
<circle cx="197.8" cy="258.7" r="2.70" fill="#ABABAB"/>
<circle cx="322.6" cy="226.8" r="2.70" fill="#ABABAB"/>
<circle cx="141.1" cy="264.4" r="2.50" fill="#ABABAB"/>
<circle cx="221.5" cy="248.2" r="2.50" fill="#ABABAB"/>
<circle cx="216.0" cy="257.9" r="2.50" fill="#ABABAB"/>
<circle cx="194.8" cy="264.0" r="2.30" fill="#ABABAB"/>
<circle cx="118.3" cy="273.6" r="2.20" fill="#ABABAB"/>
<circle cx="138.8" cy="269.0" r="2.10" fill="#ABABAB"/>
<circle cx="203.7" cy="248.0" r="1.90" fill="#ABABAB"/>
<circle cx="239.6" cy="248.2" r="1.70" fill="#ABABAB"/>
<circle cx="200.9" cy="253.4" r="1.50" fill="#ABABAB"/>
<circle cx="224.7" cy="242.8" r="1.50" fill="#ABABAB"/>
<circle cx="165.0" cy="253.3" r="1.20" fill="#ABABAB"/>
<circle cx="402.5" cy="210.6" r="1.20" fill="#ABABAB"/>
<circle cx="319.7" cy="232.1" r="1.10" fill="#ABABAB"/>
<circle cx="444.2" cy="199.8" r="1.10" fill="#ABABAB"/>
<circle cx="352.4" cy="205.1" r="1.00" fill="#ABABAB"/>
<circle cx="423.5" cy="205.1" r="1.00" fill="#ABABAB"/>
<circle cx="441.2" cy="205.1" r="1.00" fill="#ABABAB"/>
<circle cx="393.9" cy="194.7" r="0.90" fill="#ABABAB"/>
<circle cx="290.0" cy="221.3" r="0.80" fill="#ABABAB"/>
<circle cx="242.4" cy="242.8" r="0.70" fill="#ABABAB"/>
<circle cx="269.2" cy="226.8" r="0.70" fill="#ABABAB"/>
<circle cx="310.6" cy="216.1" r="0.70" fill="#ABABAB"/>
<circle cx="364.1" cy="216.1" r="0.70" fill="#ABABAB"/>
<circle cx="447.2" cy="194.7" r="0.70" fill="#ABABAB"/>
<circle cx="248.5" cy="232.2" r="0.60" fill="#ABABAB"/>
<circle cx="364.4" cy="215.9" r="0.60" fill="#ABABAB"/>
<circle cx="373.2" cy="200.0" r="1.15" fill="#7c7c7c"/>
<circle cx="408.6" cy="200.0" r="1.15" fill="#7c7c7c"/>
<circle cx="245.5" cy="237.4" r="1.05" fill="#7c7c7c"/>
<circle cx="263.1" cy="237.4" r="1.05" fill="#7c7c7c"/>
<circle cx="331.5" cy="210.8" r="1.05" fill="#7c7c7c"/>
<circle cx="450.3" cy="189.4" r="1.05" fill="#7c7c7c"/>
<circle cx="304.9" cy="226.6" r="0.95" fill="#7c7c7c"/>
<circle cx="366.8" cy="210.8" r="0.95" fill="#7c7c7c"/>
<circle cx="435.4" cy="183.9" r="0.95" fill="#7c7c7c"/>
<circle cx="286.8" cy="226.6" r="0.85" fill="#7c7c7c"/>
<circle cx="283.9" cy="231.8" r="0.85" fill="#7c7c7c"/>
<circle cx="346.2" cy="216.1" r="0.85" fill="#7c7c7c"/>
<circle cx="367.2" cy="210.6" r="0.85" fill="#7c7c7c"/>
<circle cx="414.9" cy="189.4" r="0.85" fill="#7c7c7c"/>
<circle cx="325.6" cy="221.3" r="0.75" fill="#7c7c7c"/>
<circle cx="266.2" cy="232.2" r="0.65" fill="#7c7c7c"/>
<circle cx="307.9" cy="221.3" r="0.55" fill="#7c7c7c"/>
<circle cx="330.0" cy="213.5" r="0.60" fill="#919191" opacity="0.45"/>
<circle cx="328.5" cy="216.1" r="0.60" fill="#919191" opacity="0.45"/>
<circle cx="107.4" cy="278.2" r="3.50" fill="#00B24A"/>
<circle cx="131.2" cy="267.6" r="3.10" fill="#00B24A"/>
<circle cx="214.3" cy="246.1" r="2.90" fill="#00B24A"/>
<circle cx="193.5" cy="251.6" r="2.70" fill="#00B24A"/>
<circle cx="130.9" cy="280.1" r="2.40" fill="#00B24A"/>
<circle cx="273.6" cy="235.4" r="1.40" fill="#00B24A"/>
<circle cx="273.6" cy="248.1" r="1.20" fill="#00B24A"/>
<circle cx="338.8" cy="214.2" r="1.20" fill="#00B24A"/>
<circle cx="107.4" cy="278.2" r="2.80" fill="#0CCB58"/>
<circle cx="131.2" cy="267.6" r="2.40" fill="#0CCB58"/>
<circle cx="214.3" cy="246.1" r="2.20" fill="#0CCB58"/>
<circle cx="193.5" cy="251.6" r="2.00" fill="#0CCB58"/>
<circle cx="130.9" cy="280.1" r="1.70" fill="#0CCB58"/>
<circle cx="273.6" cy="235.4" r="0.70" fill="#0CCB58"/>
<circle cx="273.6" cy="248.1" r="0.50" fill="#0CCB58"/>
<circle cx="338.8" cy="214.2" r="0.50" fill="#0CCB58"/>
<circle cx="294.4" cy="230.0" r="1.05" fill="#00B24A"/>
<circle cx="341.8" cy="221.1" r="1.05" fill="#00B24A"/>
<circle cx="341.8" cy="253.3" r="1.05" fill="#00B24A"/>
<circle cx="258.6" cy="262.5" r="0.95" fill="#00B24A"/>
<circle cx="276.5" cy="242.5" r="0.95" fill="#00B24A"/>
<circle cx="303.0" cy="251.4" r="0.95" fill="#00B24A"/>
<circle cx="338.8" cy="238.8" r="0.60" fill="#00B24A" opacity="0.45"/>
<circle cx="306.0" cy="270.8" r="0.60" fill="#00B24A" opacity="0.45"/>
<circle cx="303.0" cy="276.3" r="0.60" fill="#00B24A" opacity="0.45"/>
<circle cx="338.8" cy="251.4" r="0.60" fill="#00B24A" opacity="0.45"/>
</g>
<rect x="63.05" y="173.75" width="400.10" height="119.90" fill="none" stroke="#141414" stroke-width="1.5"/>
<path d="M92.69 290.65 V296.65 M92.69 170.75 V176.75 M129.73 292.04999999999995 V295.25 M129.73 172.15 V175.35 M166.78 290.65 V296.65 M166.78 170.75 V176.75 M203.83 292.04999999999995 V295.25 M203.83 172.15 V175.35 M240.87 290.65 V296.65 M240.87 170.75 V176.75 M277.92 292.04999999999995 V295.25 M277.92 172.15 V175.35 M314.96 290.65 V296.65 M314.96 170.75 V176.75 M352.01 292.04999999999995 V295.25 M352.01 172.15 V175.35 M389.06 290.65 V296.65 M389.06 170.75 V176.75 M426.10 292.04999999999995 V295.25 M426.10 172.15 V175.35 M463.15 290.65 V296.65 M463.15 170.75 V176.75 M60.25 293.65 H65.85 M460.34999999999997 293.65 H465.95 M60.25 259.39 H65.85 M460.34999999999997 259.39 H465.95 M60.25 225.14 H65.85 M460.34999999999997 225.14 H465.95 M60.25 190.88 H65.85 M460.34999999999997 190.88 H465.95" stroke="#141414" stroke-width="1.5" fill="none"/>
<g font-family="Liberation Sans, sans-serif" opacity="0.999">
<text x="92.29" y="311.85" font-size="14.8" text-anchor="middle" fill="#0a0a0a" stroke="#0a0a0a" stroke-width="0.44" textLength="14.9" lengthAdjust="spacingAndGlyphs" >50</text>
<text x="166.38" y="311.85" font-size="14.8" text-anchor="middle" fill="#0a0a0a" stroke="#0a0a0a" stroke-width="0.44" textLength="22.0" lengthAdjust="spacingAndGlyphs" >100</text>
<text x="240.47" y="311.85" font-size="14.8" text-anchor="middle" fill="#0a0a0a" stroke="#0a0a0a" stroke-width="0.44" textLength="22.0" lengthAdjust="spacingAndGlyphs" >150</text>
<text x="314.56" y="311.85" font-size="14.8" text-anchor="middle" fill="#0a0a0a" stroke="#0a0a0a" stroke-width="0.44" textLength="22.0" lengthAdjust="spacingAndGlyphs" >200</text>
<text x="388.66" y="311.85" font-size="14.8" text-anchor="middle" fill="#0a0a0a" stroke="#0a0a0a" stroke-width="0.44" textLength="22.0" lengthAdjust="spacingAndGlyphs" >250</text>
<text x="462.75" y="311.85" font-size="14.8" text-anchor="middle" fill="#0a0a0a" stroke="#0a0a0a" stroke-width="0.44" textLength="22.0" lengthAdjust="spacingAndGlyphs" >300</text>
<text x="57.3" y="298.48" font-size="14.0" text-anchor="end" fill="#0a0a0a" stroke="#0a0a0a" stroke-width="0.44" textLength="18.5" lengthAdjust="spacingAndGlyphs" >0.0</text>
<text x="57.3" y="264.22" font-size="14.0" text-anchor="end" fill="#0a0a0a" stroke="#0a0a0a" stroke-width="0.44" textLength="18.5" lengthAdjust="spacingAndGlyphs" >0.1</text>
<text x="57.3" y="229.97" font-size="14.0" text-anchor="end" fill="#0a0a0a" stroke="#0a0a0a" stroke-width="0.44" textLength="18.5" lengthAdjust="spacingAndGlyphs" >0.2</text>
<text x="57.3" y="195.71" font-size="14.0" text-anchor="end" fill="#0a0a0a" stroke="#0a0a0a" stroke-width="0.44" textLength="18.5" lengthAdjust="spacingAndGlyphs" >0.3</text>
<text x="16.9" y="173.85" font-size="16.2" text-anchor="start" fill="#0a0a0a" stroke="#0a0a0a" stroke-width="0.44" textLength="19.6" lengthAdjust="spacingAndGlyphs" >(b)</text>
<text x="423.4" y="287.15" font-size="17" text-anchor="start" fill="#0a0a0a" stroke="#0a0a0a" stroke-width="0.44" textLength="27.8" lengthAdjust="spacingAndGlyphs" >5 °C</text>
<text transform="translate(10.8 233.90) rotate(-90)" font-size="13" text-anchor="middle" fill="#0a0a0a" stroke="#0a0a0a" stroke-width="0.38" textLength="103" lengthAdjust="spacingAndGlyphs">Mass defect (Th)</text>
<circle cx="76" cy="190.60" r="3.3" fill="#ABABAB" stroke="#919191" stroke-width="0.6"/>
<text x="91.6" y="194.35" font-size="11.7" text-anchor="start" fill="#0a0a0a" stroke="#0a0a0a" stroke-width="0.44" textLength="16.4" lengthAdjust="spacingAndGlyphs" >CH</text>
<circle cx="76" cy="203.75" r="3.3" fill="#FF7E3E" stroke="#FF5816" stroke-width="0.6"/>
<text x="91.6" y="207.50" font-size="11.7" text-anchor="start" fill="#0a0a0a" stroke="#0a0a0a" stroke-width="0.44" textLength="26.0" lengthAdjust="spacingAndGlyphs" >CHO</text>
<circle cx="76" cy="216.90" r="3.3" fill="#3A3AFF" stroke="#2A2AF0" stroke-width="0.6"/>
<text x="91.6" y="220.65" font-size="11.7" text-anchor="start" fill="#0a0a0a" stroke="#0a0a0a" stroke-width="0.44" textLength="25.4" lengthAdjust="spacingAndGlyphs" >CHN</text>
<circle cx="76" cy="230.05" r="3.3" fill="#0CCB58" stroke="#00B24A" stroke-width="0.6"/>
<text x="91.6" y="233.80" font-size="11.7" text-anchor="start" fill="#0a0a0a" stroke="#0a0a0a" stroke-width="0.44" textLength="34.1" lengthAdjust="spacingAndGlyphs" >CHON</text>
</g>
<g>
<circle cx="158.4" cy="441.3" r="6.90" fill="#FF5816"/>
<circle cx="106.6" cy="440.8" r="6.70" fill="#FF5816"/>
<circle cx="109.0" cy="448.2" r="5.50" fill="#FF5816"/>
<circle cx="82.3" cy="450.6" r="5.20" fill="#FF5816"/>
<circle cx="146.7" cy="431.6" r="5.20" fill="#FF5816"/>
<circle cx="134.6" cy="434.5" r="4.90" fill="#FF5816"/>
<circle cx="134.2" cy="438.5" r="4.90" fill="#FF5816"/>
<circle cx="136.0" cy="443.8" r="4.70" fill="#FF5816"/>
<circle cx="207.6" cy="417.1" r="4.60" fill="#FF5816"/>
<circle cx="197.8" cy="434.8" r="4.40" fill="#FF5816"/>
<circle cx="88.8" cy="440.1" r="4.30" fill="#FF5816"/>
<circle cx="87.3" cy="445.1" r="4.30" fill="#FF5816"/>
<circle cx="123.6" cy="440.4" r="4.30" fill="#FF5816"/>
<circle cx="168.7" cy="424.2" r="4.10" fill="#FF5816"/>
<circle cx="208.3" cy="413.6" r="4.10" fill="#FF5816"/>
<circle cx="211.8" cy="412.9" r="4.10" fill="#FF5816"/>
<circle cx="230.8" cy="407.8" r="4.10" fill="#FF5816"/>
<circle cx="165.9" cy="429.2" r="3.90" fill="#FF5816"/>
<circle cx="189.3" cy="418.8" r="3.90" fill="#FF5816"/>
<circle cx="114.1" cy="435.7" r="3.60" fill="#FF5816"/>
<circle cx="192.3" cy="425.0" r="3.60" fill="#FF5816"/>
<circle cx="132.9" cy="449.2" r="3.50" fill="#FF5816"/>
<circle cx="200.9" cy="429.3" r="3.40" fill="#FF5816"/>
<circle cx="200.9" cy="441.9" r="3.40" fill="#FF5816"/>
<circle cx="224.7" cy="418.4" r="3.40" fill="#FF5816"/>
<circle cx="227.8" cy="413.7" r="3.40" fill="#FF5816"/>
<circle cx="251.3" cy="402.4" r="3.40" fill="#FF5816"/>
<circle cx="260.3" cy="411.2" r="3.40" fill="#FF5816"/>
<circle cx="230.8" cy="420.1" r="3.30" fill="#FF5816"/>
<circle cx="236.5" cy="409.5" r="3.30" fill="#FF5816"/>
<circle cx="196.0" cy="419.6" r="3.10" fill="#FF5816"/>
<circle cx="203.7" cy="424.2" r="3.10" fill="#FF5816"/>
<circle cx="212.6" cy="432.2" r="3.10" fill="#FF5816"/>
<circle cx="233.7" cy="415.1" r="3.10" fill="#FF5816"/>
<circle cx="242.4" cy="418.8" r="3.10" fill="#FF5816"/>
<circle cx="245.5" cy="413.4" r="3.10" fill="#FF5816"/>
<circle cx="266.2" cy="420.5" r="3.10" fill="#FF5816"/>
<circle cx="272.0" cy="422.1" r="3.10" fill="#FF5816"/>
<circle cx="277.9" cy="424.0" r="3.10" fill="#FF5816"/>
<circle cx="152.0" cy="431.0" r="2.90" fill="#FF5816"/>
<circle cx="174.1" cy="425.0" r="2.90" fill="#FF5816"/>
<circle cx="227.8" cy="425.5" r="2.90" fill="#FF5816"/>
<circle cx="248.5" cy="420.5" r="2.90" fill="#FF5816"/>
<circle cx="251.3" cy="415.1" r="2.90" fill="#FF5816"/>
<circle cx="257.2" cy="404.5" r="2.90" fill="#FF5816"/>
<circle cx="254.2" cy="422.1" r="2.90" fill="#FF5816"/>
<circle cx="272.0" cy="409.6" r="2.90" fill="#FF5816"/>
<circle cx="248.5" cy="408.2" r="2.80" fill="#FF5816"/>
<circle cx="272.0" cy="397.0" r="2.80" fill="#FF5816"/>
<circle cx="274.9" cy="416.8" r="2.70" fill="#FF5816"/>
<circle cx="280.9" cy="406.2" r="2.70" fill="#FF5816"/>
<circle cx="292.7" cy="416.9" r="2.70" fill="#FF5816"/>
<circle cx="245.5" cy="425.5" r="2.60" fill="#FF5816"/>
<circle cx="254.2" cy="409.5" r="2.60" fill="#FF5816"/>
<circle cx="269.2" cy="415.1" r="2.60" fill="#FF5816"/>
<circle cx="292.7" cy="391.8" r="2.60" fill="#FF5816"/>
<circle cx="313.6" cy="386.6" r="2.60" fill="#FF5816"/>
<circle cx="334.4" cy="381.3" r="2.60" fill="#FF5816"/>
<circle cx="346.2" cy="404.5" r="2.60" fill="#FF5816"/>
<circle cx="67.4" cy="445.5" r="2.50" fill="#FF5816"/>
<circle cx="269.2" cy="402.4" r="2.40" fill="#FF5816"/>
<circle cx="274.9" cy="404.4" r="2.40" fill="#FF5816"/>
<circle cx="295.7" cy="399.0" r="2.40" fill="#FF5816"/>
<circle cx="236.5" cy="433.9" r="2.30" fill="#FF5816"/>
<circle cx="290.0" cy="397.3" r="2.30" fill="#FF5816"/>
<circle cx="313.6" cy="399.0" r="2.20" fill="#FF5816"/>
<circle cx="319.7" cy="413.3" r="2.20" fill="#FF5816"/>
<circle cx="328.5" cy="404.3" r="2.20" fill="#FF5816"/>
<circle cx="346.2" cy="391.8" r="2.20" fill="#FF5816"/>
<circle cx="292.7" cy="404.5" r="2.10" fill="#FF5816"/>
<circle cx="290.0" cy="409.7" r="2.10" fill="#FF5816"/>
<circle cx="373.2" cy="376.2" r="2.10" fill="#FF5816"/>
<circle cx="266.2" cy="407.8" r="1.80" fill="#FF5816"/>
<circle cx="366.8" cy="386.9" r="1.60" fill="#FF5816"/>
<circle cx="367.2" cy="387.1" r="1.60" fill="#FF5816"/>
<circle cx="325.6" cy="422.2" r="1.50" fill="#FF5816"/>
<circle cx="158.4" cy="441.3" r="6.18" fill="#FF7E3E"/>
<circle cx="106.6" cy="440.8" r="5.98" fill="#FF7E3E"/>
<circle cx="109.0" cy="448.2" r="4.78" fill="#FF7E3E"/>
<circle cx="82.3" cy="450.6" r="4.48" fill="#FF7E3E"/>
<circle cx="146.7" cy="431.6" r="4.48" fill="#FF7E3E"/>
<circle cx="134.6" cy="434.5" r="4.18" fill="#FF7E3E"/>
<circle cx="134.2" cy="438.5" r="4.18" fill="#FF7E3E"/>
<circle cx="136.0" cy="443.8" r="3.98" fill="#FF7E3E"/>
<circle cx="207.6" cy="417.1" r="3.88" fill="#FF7E3E"/>
<circle cx="197.8" cy="434.8" r="3.68" fill="#FF7E3E"/>
<circle cx="88.8" cy="440.1" r="3.58" fill="#FF7E3E"/>
<circle cx="87.3" cy="445.1" r="3.58" fill="#FF7E3E"/>
<circle cx="123.6" cy="440.4" r="3.58" fill="#FF7E3E"/>
<circle cx="168.7" cy="424.2" r="3.38" fill="#FF7E3E"/>
<circle cx="208.3" cy="413.6" r="3.38" fill="#FF7E3E"/>
<circle cx="211.8" cy="412.9" r="3.38" fill="#FF7E3E"/>
<circle cx="230.8" cy="407.8" r="3.38" fill="#FF7E3E"/>
<circle cx="165.9" cy="429.2" r="3.18" fill="#FF7E3E"/>
<circle cx="189.3" cy="418.8" r="3.18" fill="#FF7E3E"/>
<circle cx="114.1" cy="435.7" r="2.88" fill="#FF7E3E"/>
<circle cx="192.3" cy="425.0" r="2.88" fill="#FF7E3E"/>
<circle cx="132.9" cy="449.2" r="2.78" fill="#FF7E3E"/>
<circle cx="200.9" cy="429.3" r="2.68" fill="#FF7E3E"/>
<circle cx="200.9" cy="441.9" r="2.68" fill="#FF7E3E"/>
<circle cx="224.7" cy="418.4" r="2.68" fill="#FF7E3E"/>
<circle cx="227.8" cy="413.7" r="2.68" fill="#FF7E3E"/>
<circle cx="251.3" cy="402.4" r="2.68" fill="#FF7E3E"/>
<circle cx="260.3" cy="411.2" r="2.68" fill="#FF7E3E"/>
<circle cx="230.8" cy="420.1" r="2.58" fill="#FF7E3E"/>
<circle cx="236.5" cy="409.5" r="2.58" fill="#FF7E3E"/>
<circle cx="196.0" cy="419.6" r="2.38" fill="#FF7E3E"/>
<circle cx="203.7" cy="424.2" r="2.38" fill="#FF7E3E"/>
<circle cx="212.6" cy="432.2" r="2.38" fill="#FF7E3E"/>
<circle cx="233.7" cy="415.1" r="2.38" fill="#FF7E3E"/>
<circle cx="242.4" cy="418.8" r="2.38" fill="#FF7E3E"/>
<circle cx="245.5" cy="413.4" r="2.38" fill="#FF7E3E"/>
<circle cx="266.2" cy="420.5" r="2.38" fill="#FF7E3E"/>
<circle cx="272.0" cy="422.1" r="2.38" fill="#FF7E3E"/>
<circle cx="277.9" cy="424.0" r="2.38" fill="#FF7E3E"/>
<circle cx="152.0" cy="431.0" r="2.18" fill="#FF7E3E"/>
<circle cx="174.1" cy="425.0" r="2.18" fill="#FF7E3E"/>
<circle cx="227.8" cy="425.5" r="2.18" fill="#FF7E3E"/>
<circle cx="248.5" cy="420.5" r="2.18" fill="#FF7E3E"/>
<circle cx="251.3" cy="415.1" r="2.18" fill="#FF7E3E"/>
<circle cx="257.2" cy="404.5" r="2.18" fill="#FF7E3E"/>
<circle cx="254.2" cy="422.1" r="2.18" fill="#FF7E3E"/>
<circle cx="272.0" cy="409.6" r="2.18" fill="#FF7E3E"/>
<circle cx="248.5" cy="408.2" r="2.08" fill="#FF7E3E"/>
<circle cx="272.0" cy="397.0" r="2.08" fill="#FF7E3E"/>
<circle cx="274.9" cy="416.8" r="1.98" fill="#FF7E3E"/>
<circle cx="280.9" cy="406.2" r="1.98" fill="#FF7E3E"/>
<circle cx="292.7" cy="416.9" r="1.98" fill="#FF7E3E"/>
<circle cx="245.5" cy="425.5" r="1.88" fill="#FF7E3E"/>
<circle cx="254.2" cy="409.5" r="1.88" fill="#FF7E3E"/>
<circle cx="269.2" cy="415.1" r="1.88" fill="#FF7E3E"/>
<circle cx="292.7" cy="391.8" r="1.88" fill="#FF7E3E"/>
<circle cx="313.6" cy="386.6" r="1.88" fill="#FF7E3E"/>
<circle cx="334.4" cy="381.3" r="1.88" fill="#FF7E3E"/>
<circle cx="346.2" cy="404.5" r="1.88" fill="#FF7E3E"/>
<circle cx="67.4" cy="445.5" r="1.78" fill="#FF7E3E"/>
<circle cx="269.2" cy="402.4" r="1.68" fill="#FF7E3E"/>
<circle cx="274.9" cy="404.4" r="1.68" fill="#FF7E3E"/>
<circle cx="295.7" cy="399.0" r="1.68" fill="#FF7E3E"/>
<circle cx="236.5" cy="433.9" r="1.58" fill="#FF7E3E"/>
<circle cx="290.0" cy="397.3" r="1.58" fill="#FF7E3E"/>
<circle cx="313.6" cy="399.0" r="1.48" fill="#FF7E3E"/>
<circle cx="319.7" cy="413.3" r="1.48" fill="#FF7E3E"/>
<circle cx="328.5" cy="404.3" r="1.48" fill="#FF7E3E"/>
<circle cx="346.2" cy="391.8" r="1.48" fill="#FF7E3E"/>
<circle cx="292.7" cy="404.5" r="1.38" fill="#FF7E3E"/>
<circle cx="290.0" cy="409.7" r="1.38" fill="#FF7E3E"/>
<circle cx="373.2" cy="376.2" r="1.38" fill="#FF7E3E"/>
<circle cx="266.2" cy="407.8" r="1.08" fill="#FF7E3E"/>
<circle cx="366.8" cy="386.9" r="0.88" fill="#FF7E3E"/>
<circle cx="367.2" cy="387.1" r="0.88" fill="#FF7E3E"/>
<circle cx="325.6" cy="422.2" r="0.78" fill="#FF7E3E"/>
<circle cx="81.2" cy="446.1" r="2.30" fill="#1010E8"/>
<circle cx="81.2" cy="446.1" r="1.70" fill="#1818FF"/>
<circle cx="156.3" cy="432.8" r="3.90" fill="#919191"/>
<circle cx="218.5" cy="417.1" r="3.90" fill="#919191"/>
<circle cx="322.6" cy="390.4" r="3.80" fill="#919191"/>
<circle cx="153.4" cy="438.4" r="3.70" fill="#919191"/>
<circle cx="120.6" cy="432.4" r="3.60" fill="#919191"/>
<circle cx="135.6" cy="438.4" r="3.60" fill="#919191"/>
<circle cx="183.2" cy="417.0" r="3.60" fill="#919191"/>
<circle cx="194.8" cy="427.9" r="3.40" fill="#919191"/>
<circle cx="123.8" cy="427.5" r="3.30" fill="#919191"/>
<circle cx="141.2" cy="427.4" r="3.30" fill="#919191"/>
<circle cx="144.4" cy="422.2" r="3.30" fill="#919191"/>
<circle cx="162.0" cy="422.5" r="3.30" fill="#919191"/>
<circle cx="221.5" cy="411.5" r="3.10" fill="#919191"/>
<circle cx="393.9" cy="358.5" r="3.10" fill="#919191"/>
<circle cx="138.5" cy="432.9" r="2.90" fill="#919191"/>
<circle cx="177.1" cy="427.9" r="2.90" fill="#919191"/>
<circle cx="215.5" cy="422.1" r="2.90" fill="#919191"/>
<circle cx="352.4" cy="369.1" r="2.90" fill="#919191"/>
<circle cx="402.5" cy="374.4" r="2.90" fill="#919191"/>
<circle cx="423.5" cy="368.9" r="2.90" fill="#919191"/>
<circle cx="444.2" cy="363.8" r="2.90" fill="#919191"/>
<circle cx="82.2" cy="438.3" r="2.80" fill="#919191"/>
<circle cx="118.0" cy="437.3" r="2.80" fill="#919191"/>
<circle cx="197.8" cy="422.5" r="2.80" fill="#919191"/>
<circle cx="269.4" cy="390.2" r="2.80" fill="#919191"/>
<circle cx="200.9" cy="417.0" r="2.70" fill="#919191"/>
<circle cx="203.7" cy="411.6" r="2.70" fill="#919191"/>
<circle cx="79.3" cy="444.0" r="2.60" fill="#919191"/>
<circle cx="319.7" cy="395.6" r="2.50" fill="#919191"/>
<circle cx="224.7" cy="406.1" r="2.40" fill="#919191"/>
<circle cx="239.6" cy="411.7" r="2.40" fill="#919191"/>
<circle cx="248.5" cy="395.7" r="2.40" fill="#919191"/>
<circle cx="310.6" cy="379.6" r="2.40" fill="#919191"/>
<circle cx="364.1" cy="379.9" r="2.40" fill="#919191"/>
<circle cx="364.4" cy="379.7" r="2.40" fill="#919191"/>
<circle cx="435.4" cy="347.4" r="2.40" fill="#919191"/>
<circle cx="447.2" cy="358.5" r="2.40" fill="#919191"/>
<circle cx="290.0" cy="384.9" r="2.30" fill="#919191"/>
<circle cx="373.2" cy="363.8" r="2.20" fill="#919191"/>
<circle cx="165.0" cy="417.0" r="2.10" fill="#919191"/>
<circle cx="331.5" cy="374.4" r="2.10" fill="#919191"/>
<circle cx="441.2" cy="368.9" r="2.10" fill="#919191"/>
<circle cx="408.6" cy="363.8" r="2.00" fill="#919191"/>
<circle cx="242.4" cy="406.5" r="1.90" fill="#919191"/>
<circle cx="414.9" cy="353.0" r="1.90" fill="#919191"/>
<circle cx="263.1" cy="401.1" r="1.80" fill="#919191"/>
<circle cx="450.3" cy="353.0" r="1.80" fill="#919191"/>
<circle cx="283.9" cy="395.4" r="1.70" fill="#919191"/>
<circle cx="304.9" cy="390.2" r="1.70" fill="#919191"/>
<circle cx="325.6" cy="384.9" r="1.70" fill="#919191"/>
<circle cx="286.8" cy="390.2" r="1.60" fill="#919191"/>
<circle cx="346.2" cy="379.6" r="1.60" fill="#919191"/>
<circle cx="366.8" cy="374.7" r="1.60" fill="#919191"/>
<circle cx="367.2" cy="374.4" r="1.60" fill="#919191"/>
<circle cx="245.5" cy="401.1" r="1.50" fill="#919191"/>
<circle cx="266.2" cy="395.7" r="1.30" fill="#919191"/>
<circle cx="328.5" cy="379.6" r="1.30" fill="#919191"/>
<circle cx="307.9" cy="384.9" r="1.20" fill="#919191"/>
<circle cx="156.3" cy="432.8" r="3.30" fill="#ABABAB"/>
<circle cx="218.5" cy="417.1" r="3.30" fill="#ABABAB"/>
<circle cx="322.6" cy="390.4" r="3.20" fill="#ABABAB"/>
<circle cx="153.4" cy="438.4" r="3.10" fill="#ABABAB"/>
<circle cx="120.6" cy="432.4" r="3.00" fill="#ABABAB"/>
<circle cx="135.6" cy="438.4" r="3.00" fill="#ABABAB"/>
<circle cx="183.2" cy="417.0" r="3.00" fill="#ABABAB"/>
<circle cx="194.8" cy="427.9" r="2.80" fill="#ABABAB"/>
<circle cx="123.8" cy="427.5" r="2.70" fill="#ABABAB"/>
<circle cx="141.2" cy="427.4" r="2.70" fill="#ABABAB"/>
<circle cx="144.4" cy="422.2" r="2.70" fill="#ABABAB"/>
<circle cx="162.0" cy="422.5" r="2.70" fill="#ABABAB"/>
<circle cx="221.5" cy="411.5" r="2.50" fill="#ABABAB"/>
<circle cx="393.9" cy="358.5" r="2.50" fill="#ABABAB"/>
<circle cx="138.5" cy="432.9" r="2.30" fill="#ABABAB"/>
<circle cx="177.1" cy="427.9" r="2.30" fill="#ABABAB"/>
<circle cx="215.5" cy="422.1" r="2.30" fill="#ABABAB"/>
<circle cx="352.4" cy="369.1" r="2.30" fill="#ABABAB"/>
<circle cx="402.5" cy="374.4" r="2.30" fill="#ABABAB"/>
<circle cx="423.5" cy="368.9" r="2.30" fill="#ABABAB"/>
<circle cx="444.2" cy="363.8" r="2.30" fill="#ABABAB"/>
<circle cx="82.2" cy="438.3" r="2.20" fill="#ABABAB"/>
<circle cx="118.0" cy="437.3" r="2.20" fill="#ABABAB"/>
<circle cx="197.8" cy="422.5" r="2.20" fill="#ABABAB"/>
<circle cx="269.4" cy="390.2" r="2.20" fill="#ABABAB"/>
<circle cx="200.9" cy="417.0" r="2.10" fill="#ABABAB"/>
<circle cx="203.7" cy="411.6" r="2.10" fill="#ABABAB"/>
<circle cx="79.3" cy="444.0" r="2.00" fill="#ABABAB"/>
<circle cx="319.7" cy="395.6" r="1.90" fill="#ABABAB"/>
<circle cx="224.7" cy="406.1" r="1.80" fill="#ABABAB"/>
<circle cx="239.6" cy="411.7" r="1.80" fill="#ABABAB"/>
<circle cx="248.5" cy="395.7" r="1.80" fill="#ABABAB"/>
<circle cx="310.6" cy="379.6" r="1.80" fill="#ABABAB"/>
<circle cx="364.1" cy="379.9" r="1.80" fill="#ABABAB"/>
<circle cx="364.4" cy="379.7" r="1.80" fill="#ABABAB"/>
<circle cx="435.4" cy="347.4" r="1.80" fill="#ABABAB"/>
<circle cx="447.2" cy="358.5" r="1.80" fill="#ABABAB"/>
<circle cx="290.0" cy="384.9" r="1.70" fill="#ABABAB"/>
<circle cx="373.2" cy="363.8" r="1.60" fill="#ABABAB"/>
<circle cx="165.0" cy="417.0" r="1.50" fill="#ABABAB"/>
<circle cx="331.5" cy="374.4" r="1.50" fill="#ABABAB"/>
<circle cx="441.2" cy="368.9" r="1.50" fill="#ABABAB"/>
<circle cx="408.6" cy="363.8" r="1.40" fill="#ABABAB"/>
<circle cx="242.4" cy="406.5" r="1.30" fill="#ABABAB"/>
<circle cx="414.9" cy="353.0" r="1.30" fill="#ABABAB"/>
<circle cx="263.1" cy="401.1" r="1.20" fill="#ABABAB"/>
<circle cx="450.3" cy="353.0" r="1.20" fill="#ABABAB"/>
<circle cx="283.9" cy="395.4" r="1.10" fill="#ABABAB"/>
<circle cx="304.9" cy="390.2" r="1.10" fill="#ABABAB"/>
<circle cx="325.6" cy="384.9" r="1.10" fill="#ABABAB"/>
<circle cx="286.8" cy="390.2" r="1.00" fill="#ABABAB"/>
<circle cx="346.2" cy="379.6" r="1.00" fill="#ABABAB"/>
<circle cx="366.8" cy="374.7" r="1.00" fill="#ABABAB"/>
<circle cx="367.2" cy="374.4" r="1.00" fill="#ABABAB"/>
<circle cx="245.5" cy="401.1" r="0.90" fill="#ABABAB"/>
<circle cx="266.2" cy="395.7" r="0.70" fill="#ABABAB"/>
<circle cx="328.5" cy="379.6" r="0.70" fill="#ABABAB"/>
<circle cx="307.9" cy="384.9" r="0.60" fill="#ABABAB"/>
<circle cx="107.3" cy="441.8" r="3.80" fill="#00B24A"/>
<circle cx="130.9" cy="443.5" r="2.90" fill="#00B24A"/>
<circle cx="131.2" cy="431.3" r="2.40" fill="#00B24A"/>
<circle cx="193.5" cy="414.9" r="2.10" fill="#00B24A"/>
<circle cx="214.3" cy="409.8" r="2.10" fill="#00B24A"/>
<circle cx="341.8" cy="384.7" r="2.10" fill="#00B24A"/>
<circle cx="338.8" cy="402.4" r="2.10" fill="#00B24A"/>
<circle cx="341.8" cy="416.9" r="2.00" fill="#00B24A"/>
<circle cx="303.0" cy="415.0" r="1.90" fill="#00B24A"/>
<circle cx="213.5" cy="422.1" r="1.80" fill="#00B24A"/>
<circle cx="258.6" cy="425.5" r="1.80" fill="#00B24A"/>
<circle cx="273.6" cy="398.9" r="1.80" fill="#00B24A"/>
<circle cx="294.4" cy="393.5" r="1.80" fill="#00B24A"/>
<circle cx="338.8" cy="377.7" r="1.80" fill="#00B24A"/>
<circle cx="276.5" cy="406.1" r="1.60" fill="#00B24A"/>
<circle cx="273.6" cy="411.4" r="1.60" fill="#00B24A"/>
<circle cx="306.0" cy="434.4" r="1.40" fill="#00B24A"/>
<circle cx="338.8" cy="415.0" r="1.30" fill="#00B24A"/>
<circle cx="303.0" cy="439.8" r="1.20" fill="#00B24A"/>
<circle cx="107.3" cy="441.8" r="3.10" fill="#0CCB58"/>
<circle cx="130.9" cy="443.5" r="2.20" fill="#0CCB58"/>
<circle cx="131.2" cy="431.3" r="1.70" fill="#0CCB58"/>
<circle cx="193.5" cy="414.9" r="1.40" fill="#0CCB58"/>
<circle cx="214.3" cy="409.8" r="1.40" fill="#0CCB58"/>
<circle cx="341.8" cy="384.7" r="1.40" fill="#0CCB58"/>
<circle cx="338.8" cy="402.4" r="1.40" fill="#0CCB58"/>
<circle cx="341.8" cy="416.9" r="1.30" fill="#0CCB58"/>
<circle cx="303.0" cy="415.0" r="1.20" fill="#0CCB58"/>
<circle cx="213.5" cy="422.1" r="1.10" fill="#0CCB58"/>
<circle cx="258.6" cy="425.5" r="1.10" fill="#0CCB58"/>
<circle cx="273.6" cy="398.9" r="1.10" fill="#0CCB58"/>
<circle cx="294.4" cy="393.5" r="1.10" fill="#0CCB58"/>
<circle cx="338.8" cy="377.7" r="1.10" fill="#0CCB58"/>
<circle cx="276.5" cy="406.1" r="0.90" fill="#0CCB58"/>
<circle cx="273.6" cy="411.4" r="0.90" fill="#0CCB58"/>
<circle cx="306.0" cy="434.4" r="0.70" fill="#0CCB58"/>
<circle cx="338.8" cy="415.0" r="0.60" fill="#0CCB58"/>
<circle cx="303.0" cy="439.8" r="0.50" fill="#0CCB58"/>
</g>
<rect x="63.05" y="337.2" width="400.10" height="119.85" fill="none" stroke="#141414" stroke-width="1.5"/>
<path d="M92.69 454.05 V460.05 M92.69 334.2 V340.2 M129.73 455.45 V458.65000000000003 M129.73 335.59999999999997 V338.8 M166.78 454.05 V460.05 M166.78 334.2 V340.2 M203.83 455.45 V458.65000000000003 M203.83 335.59999999999997 V338.8 M240.87 454.05 V460.05 M240.87 334.2 V340.2 M277.92 455.45 V458.65000000000003 M277.92 335.59999999999997 V338.8 M314.96 454.05 V460.05 M314.96 334.2 V340.2 M352.01 455.45 V458.65000000000003 M352.01 335.59999999999997 V338.8 M389.06 454.05 V460.05 M389.06 334.2 V340.2 M426.10 455.45 V458.65000000000003 M426.10 335.59999999999997 V338.8 M463.15 454.05 V460.05 M463.15 334.2 V340.2 M60.25 457.05 H65.85 M460.34999999999997 457.05 H465.95 M60.25 422.81 H65.85 M460.34999999999997 422.81 H465.95 M60.25 388.56 H65.85 M460.34999999999997 388.56 H465.95 M60.25 354.32 H65.85 M460.34999999999997 354.32 H465.95" stroke="#141414" stroke-width="1.5" fill="none"/>
<g font-family="Liberation Sans, sans-serif" opacity="0.999">
<text x="92.29" y="475.25" font-size="14.8" text-anchor="middle" fill="#0a0a0a" stroke="#0a0a0a" stroke-width="0.44" textLength="14.9" lengthAdjust="spacingAndGlyphs" >50</text>
<text x="166.38" y="475.25" font-size="14.8" text-anchor="middle" fill="#0a0a0a" stroke="#0a0a0a" stroke-width="0.44" textLength="22.0" lengthAdjust="spacingAndGlyphs" >100</text>
<text x="240.47" y="475.25" font-size="14.8" text-anchor="middle" fill="#0a0a0a" stroke="#0a0a0a" stroke-width="0.44" textLength="22.0" lengthAdjust="spacingAndGlyphs" >150</text>
<text x="314.56" y="475.25" font-size="14.8" text-anchor="middle" fill="#0a0a0a" stroke="#0a0a0a" stroke-width="0.44" textLength="22.0" lengthAdjust="spacingAndGlyphs" >200</text>
<text x="388.66" y="475.25" font-size="14.8" text-anchor="middle" fill="#0a0a0a" stroke="#0a0a0a" stroke-width="0.44" textLength="22.0" lengthAdjust="spacingAndGlyphs" >250</text>
<text x="462.75" y="475.25" font-size="14.8" text-anchor="middle" fill="#0a0a0a" stroke="#0a0a0a" stroke-width="0.44" textLength="22.0" lengthAdjust="spacingAndGlyphs" >300</text>
<text x="57.3" y="461.88" font-size="14.0" text-anchor="end" fill="#0a0a0a" stroke="#0a0a0a" stroke-width="0.44" textLength="18.5" lengthAdjust="spacingAndGlyphs" >0.0</text>
<text x="57.3" y="427.64" font-size="14.0" text-anchor="end" fill="#0a0a0a" stroke="#0a0a0a" stroke-width="0.44" textLength="18.5" lengthAdjust="spacingAndGlyphs" >0.1</text>
<text x="57.3" y="393.39" font-size="14.0" text-anchor="end" fill="#0a0a0a" stroke="#0a0a0a" stroke-width="0.44" textLength="18.5" lengthAdjust="spacingAndGlyphs" >0.2</text>
<text x="57.3" y="359.15" font-size="14.0" text-anchor="end" fill="#0a0a0a" stroke="#0a0a0a" stroke-width="0.44" textLength="18.5" lengthAdjust="spacingAndGlyphs" >0.3</text>
<text x="16.9" y="336.70" font-size="16.2" text-anchor="start" fill="#0a0a0a" stroke="#0a0a0a" stroke-width="0.44" textLength="19.6" lengthAdjust="spacingAndGlyphs" >(c)</text>
<text x="419.9" y="450.55" font-size="17" text-anchor="start" fill="#0a0a0a" stroke="#0a0a0a" stroke-width="0.44" textLength="35.7" lengthAdjust="spacingAndGlyphs" >15 °C</text>
<text transform="translate(10.8 397.82) rotate(-90)" font-size="13" text-anchor="middle" fill="#0a0a0a" stroke="#0a0a0a" stroke-width="0.38" textLength="103.6" lengthAdjust="spacingAndGlyphs">Mass defect (Th)</text>
<circle cx="76" cy="353.75" r="3.3" fill="#ABABAB" stroke="#919191" stroke-width="0.6"/>
<text x="91.6" y="357.50" font-size="11.7" text-anchor="start" fill="#0a0a0a" stroke="#0a0a0a" stroke-width="0.44" textLength="16.4" lengthAdjust="spacingAndGlyphs" >CH</text>
<circle cx="76" cy="366.90" r="3.3" fill="#FF7E3E" stroke="#FF5816" stroke-width="0.6"/>
<text x="91.6" y="370.65" font-size="11.7" text-anchor="start" fill="#0a0a0a" stroke="#0a0a0a" stroke-width="0.44" textLength="26.0" lengthAdjust="spacingAndGlyphs" >CHO</text>
<circle cx="76" cy="380.05" r="3.3" fill="#3A3AFF" stroke="#2A2AF0" stroke-width="0.6"/>
<text x="91.6" y="383.80" font-size="11.7" text-anchor="start" fill="#0a0a0a" stroke="#0a0a0a" stroke-width="0.44" textLength="25.4" lengthAdjust="spacingAndGlyphs" >CHN</text>
<circle cx="76" cy="393.20" r="3.3" fill="#0CCB58" stroke="#00B24A" stroke-width="0.6"/>
<text x="91.6" y="396.95" font-size="11.7" text-anchor="start" fill="#0a0a0a" stroke="#0a0a0a" stroke-width="0.44" textLength="34.1" lengthAdjust="spacingAndGlyphs" >CHON</text>
</g>
<g style="filter:grayscale(1)"><text x="263.0" y="503" font-size="13" text-anchor="middle" fill="#0a0a0a" stroke="#0a0a0a" stroke-width="0.35" textLength="122.8" lengthAdjust="spacingAndGlyphs" font-family="Liberation Sans, sans-serif">Mass to charge (Th)</text></g>
</svg>
</body></html>
